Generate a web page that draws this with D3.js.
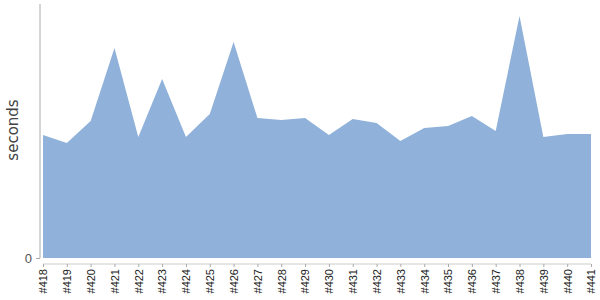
<!DOCTYPE html>
<html>
<head>
<meta charset="utf-8">
<script src="https://d3js.org/d3.v7.min.js"></script>
<style>
  body { margin: 0; background: #fff; }
  svg { display: block; font-family: "DejaVu Sans", sans-serif; }
</style>
</head>
<body>
<div id="chart"></div>
<script>
var builds = ["#418", "#419", "#420", "#421", "#422", "#423", "#424", "#425",
  "#426", "#427", "#428", "#429", "#430", "#431", "#432", "#433", "#434",
  "#435", "#436", "#437", "#438", "#439", "#440", "#441"];
var durations = [123, 115, 137, 210, 121, 179, 121, 144, 216, 140, 138, 140,
  123, 139, 135, 117, 130, 132, 142, 127, 242, 121, 124, 124];
var yTicks = [0];

var width = 600, height = 300;
var plotLeft = 43, plotRight = 591, plotTop = 4, plotBase = 258;

var svg = d3.select("#chart").append("svg")
  .attr("width", width)
  .attr("height", height);

var x = d3.scalePoint().domain(builds).range([plotLeft, plotRight]);
var y = d3.scaleLinear().domain([0, 254]).range([plotBase, plotTop]);

var data = builds.map(function (b, i) { return { build: b, value: durations[i] }; });

var area = d3.area()
  .x(function (d) { return x(d.build); })
  .y0(y(0))
  .y1(function (d) { return y(d.value); });

svg.append("path")
  .datum(data)
  .attr("d", area)
  .attr("fill", "#8fb1da");

// y axis
var yAxis = svg.append("g")
  .attr("transform", "translate(40,0)")
  .call(d3.axisLeft(y).tickValues(yTicks).tickSize(4).tickPadding(4));
yAxis.select(".domain").attr("stroke", "#aaa").attr("d", "M0," + plotTop + "V" + plotBase);
yAxis.selectAll(".tick line").attr("stroke", "#aaa");
yAxis.selectAll(".tick text").attr("fill", "#555").style("font-size", "13px");

// x axis
var xAxis = svg.append("g")
  .attr("transform", "translate(0,264)")
  .call(d3.axisBottom(x).tickSize(3).tickPadding(3));
xAxis.select(".domain").attr("stroke", "#ccc").attr("d", "M" + plotLeft + ",0H" + plotRight);
xAxis.selectAll(".tick line").attr("stroke", "#aaa");
xAxis.selectAll(".tick text")
  .attr("fill", "#222")
  .style("font-size", "11px")
  .attr("transform", "rotate(-90)")
  .attr("text-anchor", "end")
  .attr("x", -5)
  .attr("y", 0)
  .attr("dy", "0.35em");

svg.append("text")
  .attr("transform", "translate(18,130) rotate(-90)")
  .attr("text-anchor", "middle")
  .attr("fill", "#444")
  .style("font-size", "15px")
  .text("seconds");
</script>
</body>
</html>
